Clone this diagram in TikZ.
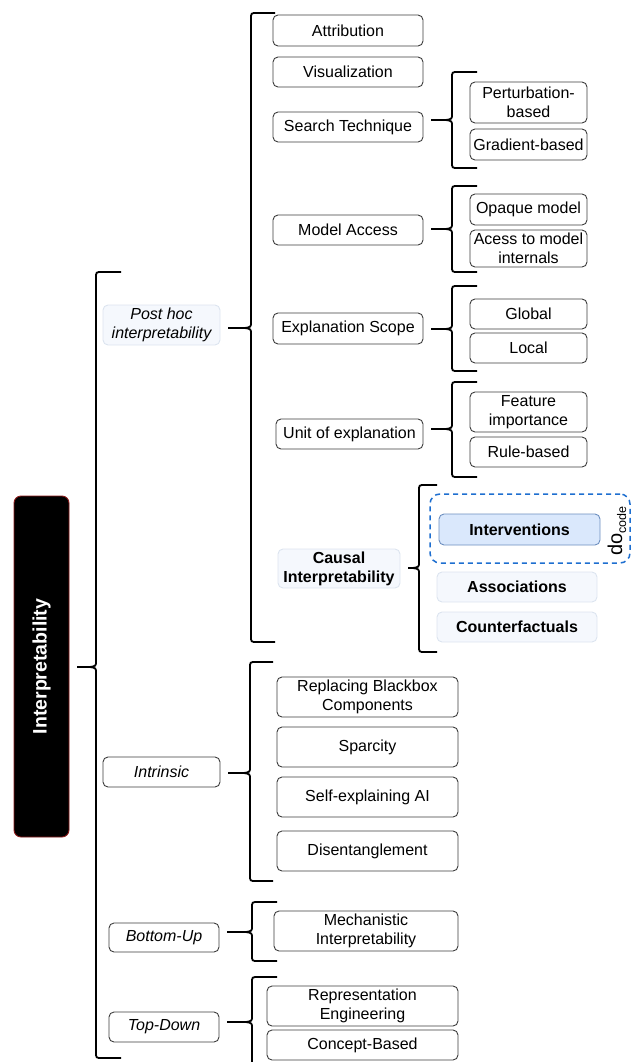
\documentclass[tikz,border=0pt]{standalone}
\usepackage{fontspec}
\setmainfont{Liberation Sans}
\usepackage{xcolor}
\usetikzlibrary{positioning}

\definecolor{boxline}{HTML}{3C3C3C}
\definecolor{lightfill}{HTML}{F5F8FD}
\definecolor{lightline}{HTML}{DCE4EF}
\definecolor{intfill}{HTML}{DAE8FC}
\definecolor{intline}{HTML}{6C8EBF}
\definecolor{dashblue}{HTML}{1E6FD0}
\definecolor{rootline}{HTML}{8B1A1A}

\newcommand{\boxfont}{\fontsize{16}{19}\selectfont}

\tikzstyle{leafbox} = [draw=boxline, fill=white, line width=0.9pt,
    rectangle, rounded corners=5, align=center, inner sep=2, font=\boxfont]
\tikzstyle{catbox} = [leafbox, font=\boxfont\itshape]
\tikzstyle{softbox} = [leafbox, draw=lightline, fill=lightfill]
\tikzstyle{rootbox} = [draw=rootline, fill=black, text=white, line width=0.9pt,
    rectangle, rounded corners=7, font=\fontsize{19.5}{22}\selectfont\bfseries]
\tikzstyle{dobox} = [draw=dashblue, dashed, dash pattern=on 5pt off 4pt,
    line width=1.5pt, rectangle, rounded corners=10]
\tikzstyle{bracket} = [draw=black, line width=1.8pt]

% curly bracket: name, parent anchor, spine x, top, middle, bottom, tick
\newcommand{\curly}[7]{%
  \coordinate (#1) at (#3-6,#5);
  \path (#2) ++(8,0) coordinate (#1-a);
  \draw[bracket] (#3+#7,#4) -- (#3+6,#4) .. controls (#3,#4) .. (#3,#4+6)
    -- (#3,#5-6) .. controls (#3,#5-1) .. (#1)
    .. controls (#3,#5+1) .. (#3,#5+6) -- (#3,#6-6)
    .. controls (#3,#6) .. (#3+6,#6) -- (#3+#7,#6);
  \draw[bracket] (#1-a |- #1) -- (#1);
}

\begin{document}
\begin{tikzpicture}[x=1pt,y=-1pt]
\useasboundingbox (0,0) rectangle (634,1062);

% root
\node[rootbox, rotate=90, minimum width=341, minimum height=55] (root) at (41.5,666.5) {Interpretability};

% first level
\node[softbox, minimum width=117, minimum height=40] (posthoc) at (161.5,325) {\itshape Post hoc\\\itshape interpretability};
\node[catbox, minimum width=117, minimum height=30] (intrinsic) at (161.5,772) {Intrinsic};
\node[catbox, minimum width=110, minimum height=29] (bottomup) at (164,937.5) {Bottom-Up};
\node[catbox, minimum width=110, minimum height=30] (topdown) at (164,1027) {Top-Down};

% post hoc
\node[leafbox, minimum width=150, minimum height=31] (attribution) at (348,30.5) {Attribution};
\node[leafbox, minimum width=150, minimum height=30] (visual) at (348,72) {Visualization};
\node[leafbox, minimum width=150, minimum height=30] (search) at (348,127) {Search Technique};
\node[leafbox, minimum width=150, minimum height=30] (access) at (348,230) {Model Access};
\node[leafbox, minimum width=150, minimum height=31] (scope) at (348,328.5) {Explanation Scope};
\node[leafbox, minimum width=147, minimum height=30] (unit) at (349.5,434) {Unit of explanation};
\node[softbox, minimum width=122, minimum height=39, font=\boxfont\bfseries] (causal) at (339,568.5) {Causal\\Interpretability};

\node[leafbox, minimum width=117, minimum height=41] (perturb) at (528.5,102.5) {Perturbation-\\based};
\node[leafbox, minimum width=117, minimum height=31] (gradient) at (528.5,144.5) {Gradient-based};
\node[leafbox, minimum width=117, minimum height=31] (opaque) at (528.5,209.5) {Opaque model};
\node[leafbox, minimum width=117, minimum height=37] (internals) at (528.5,248.5) {Acess to model\\internals};
\node[leafbox, minimum width=117, minimum height=30] (global) at (528.5,314) {Global};
\node[leafbox, minimum width=117, minimum height=30] (local) at (528.5,348) {Local};
\node[leafbox, minimum width=117, minimum height=40] (feature) at (528.5,412) {Feature\\importance};
\node[leafbox, minimum width=117, minimum height=30] (rule) at (528.5,452) {Rule-based};

% causal
\node[dobox, minimum width=200, minimum height=69] (dogroup) at (530,528.5) {};
\node[leafbox, draw=intline, fill=intfill, minimum width=161, minimum height=31, font=\boxfont\bfseries] (interv) at (519.5,529.5) {Interventions};
\node[rotate=90, inner sep=0] (docode) at (617,531) {\fontsize{20}{21}\selectfont do\raisebox{-4pt}{\fontsize{12.5}{13}\selectfont code}};
\node[softbox, minimum width=160, minimum height=30, font=\boxfont\bfseries] (assoc) at (517,587) {Associations};
\node[softbox, minimum width=160, minimum height=30, font=\boxfont\bfseries] (counter) at (517,627) {Counterfactuals};

% intrinsic
\node[leafbox, minimum width=181, minimum height=40] (replace) at (367.5,697) {Replacing Blackbox\\Components};
\node[leafbox, minimum width=181, minimum height=40] (sparcity) at (367.5,747) {Sparcity};
\node[leafbox, minimum width=181, minimum height=40] (selfexp) at (367.5,797) {Self-explaining AI};
\node[leafbox, minimum width=181, minimum height=40] (disent) at (367.5,851) {Disentanglement};

% bottom-up, top-down
\node[leafbox, minimum width=184, minimum height=40] (mech) at (366,931) {Mechanistic\\Interpretability};
\node[leafbox, minimum width=191, minimum height=40] (repr) at (362.5,1006) {Representation\\Engineering};
\node[leafbox, minimum width=191, minimum height=30] (concept) at (362.5,1045) {Concept-Based};

% brackets
\curly{b-root}{root.south}{96}{272}{667}{1058}{25}
\curly{b-posthoc}{posthoc.east}{251}{13}{328}{642}{24}
\curly{b-search}{search.east}{452}{72}{120}{168}{25}
\curly{b-access}{access.east}{452}{186}{229}{272}{25}
\curly{b-scope}{scope.east}{452}{286}{329}{371}{25}
\curly{b-unit}{unit.east}{452}{382}{429}{477}{25}
\curly{b-causal}{causal.east}{419}{485}{568}{652}{18}
\curly{b-intrinsic}{intrinsic.east}{250}{662}{773}{881}{23}
\curly{b-bottomup}{bottomup.east}{252}{902}{932}{961}{25}
\curly{b-topdown}{topdown.east}{252}{977}{1022}{1067}{25}
\end{tikzpicture}
\end{document}
